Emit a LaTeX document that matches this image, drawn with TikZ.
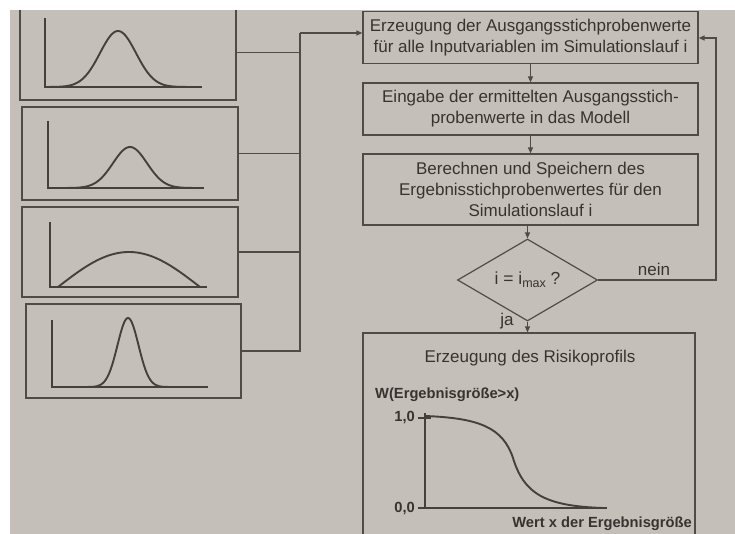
\documentclass[tikz,border=0pt]{standalone}
\usepackage{fontspec}
\setmainfont{Liberation Sans}
\usetikzlibrary{shapes.geometric,arrows.meta,calc}
\definecolor{pagegray}{RGB}{196,192,185}
\definecolor{inkline}{RGB}{80,75,70}
\definecolor{inktext}{RGB}{55,51,48}
\tikzset{
  stepbox/.style={draw=inkline, line width=1.2pt, inner sep=0pt, align=center,
    text=inktext, font=\fontsize{17}{21}\selectfont},
  distbox/.style={draw=inkline, line width=1.2pt, inner sep=0pt},
  conn/.style={draw=inkline, line width=1.2pt},
  arr/.style={conn, -{Triangle[length=6pt,width=5pt]}},
  curve/.style={draw=inkline!85!black, line width=1.9pt, line join=round},
  axisline/.style={draw=inkline!85!black, line width=1.7pt},
  lbl/.style={text=inktext, font=\fontsize{17}{20}\selectfont, inner sep=0pt},
  blbl/.style={text=inktext, font=\fontsize{14.7}{17}\selectfont\bfseries, inner sep=0pt}
}
\begin{document}
\begin{tikzpicture}[x=1pt,y=-1pt]
\useasboundingbox (0,0) rectangle (735,534);
\clip (0,0) rectangle (735,534);
\fill[pagegray] (0,0) rectangle (735,534);

% left distribution boxes
\node[distbox, minimum width=216pt, minimum height=95pt] (d1) at (128,52.5) {};
\node[distbox, minimum width=216pt, minimum height=93pt] (d2) at (130,153.5) {};
\node[distbox, minimum width=216pt, minimum height=90pt] (d3) at (130,252) {};
\node[distbox, minimum width=215pt, minimum height=94pt] (d4) at (133.5,351) {};

% box 1 curve
\draw[axisline] (45,18) -- (45,87) -- (202,87);
\draw[curve] plot[domain=50:195, samples=90] (\x, {87 - 56*exp(-((\x-118)*(\x-118))/(2*18*18))});
% box 2 curve
\draw[axisline] (48,121) -- (48,188) -- (204,188);
\draw[curve] plot[domain=55:200, samples=90] (\x, {188 - 41*exp(-((\x-130)*(\x-130))/(2*17*17))});
% box 3 curve
\draw[axisline] (50,222) -- (50,287) -- (207,287);
\draw[curve] plot[domain=58:200, samples=90] (\x, {287 - 35*sin(1.2676*(\x-58))});
% box 4 curve
\draw[axisline] (52,320) -- (52,387) -- (208,387);
\draw[curve] plot[domain=70:190, samples=120] (\x, {387 - 69*exp(-((\x-128)*(\x-128))/(2*10.5*10.5))});

% right flow
\node[stepbox, minimum width=335pt, minimum height=52pt] (A) at (530.5,37.5)
  {Erzeugung der Ausgangsstichprobenwerte\\für alle Inputvariablen im Simulationslauf i};
\node[stepbox, minimum width=335pt, minimum height=52pt] (B) at (530.5,109)
  {Eingabe der ermittelten Ausgangsstich-\\probenwerte in das Modell};
\node[stepbox, minimum width=335pt, minimum height=71pt] (C) at (530.5,189.5)
  {Berechnen und Speichern des\\Ergebnisstichprobenwertes für den\\Simulationslauf i};
\node[draw=inkline, line width=1.2pt, shape=diamond, inner sep=0pt, minimum width=140pt,
  minimum height=67pt, text=inktext, font=\fontsize{17.5}{20}\selectfont] (Q) at (527.5,280)
  {i = i\raisebox{-0.35ex}{\fontsize{12.5}{14}\selectfont max} ?};
\node[stepbox, minimum width=332pt, minimum height=220pt] (D) at (529,443) {};

\draw[arr] (A) -- (B);
\draw[arr] (B) -- (C);
\draw[arr] (C.south -| Q.north) -- (Q.north);
\draw[arr] (Q.south) -- (Q.south |- D.north);

% loop back
\coordinate (loop) at (716,38);
\draw[arr] (Q.east) -| (loop) -- (A.east |- loop);
\node[lbl] (nein) at (654,269) {nein};
\node[lbl] (ja) at (507,321) {ja};

% bus from distributions
\coordinate (busT) at (300,33);
\draw[conn] (d4.east) -| (busT);
\draw[conn] (d1.east) -- (d1.east -| busT);
\draw[conn] (d2.east) -- (d2.east -| busT);
\draw[conn] (d3.east) -- (d3.east -| busT);
\draw[arr] (busT) -- (A.west |- busT);

% risk profile
\node[lbl] (title) at (530,358) {Erzeugung des Risikoprofils};
\node[blbl, anchor=west] (wlab) at (375,395) {W(Ergebnisgröße>x)};
\node[blbl, anchor=east] (one) at (415,418) {1,0};
\node[blbl, anchor=east] (zero) at (415,509) {0,0};
\node[blbl, anchor=east] (xlab) at (692,524) {Wert x der Ergebnisgröße};
\coordinate (ytop) at (425,413);
\coordinate (orig) at (425,508);
\coordinate (xend) at (607,508);
\draw[axisline] (ytop) -- (orig);
\draw[axisline] (418,508) -- (xend);
\draw[axisline] (418,418) -- (431,418);
\draw[curve] (425,416) .. controls (480,418) and (503,428) .. (513,458)
  .. controls (524,494) and (545,506) .. (603,508);

% white margin of the photographed page
\fill[white] (0,0) rectangle (735,10);
\fill[white] (0,0) rectangle (10,534);
\end{tikzpicture}
\end{document}
